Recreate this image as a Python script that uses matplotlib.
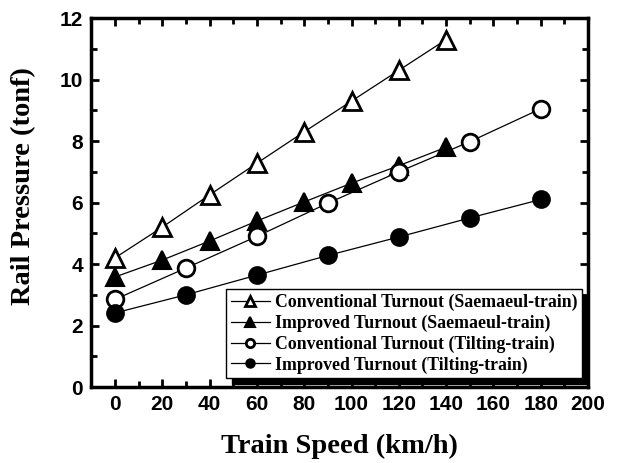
import numpy as np
import matplotlib.pyplot as plt
from matplotlib.ticker import MultipleLocator

# Data
speed_sae = [0, 20, 40, 60, 80, 100, 120, 140]
conv_sae = [4.2, 5.2, 6.25, 7.28, 8.3, 9.3, 10.3, 11.3]
impr_sae = [3.58, 4.13, 4.75, 5.4, 6.02, 6.63, 7.2, 7.8]

speed_tilt = [0, 30, 60, 90, 120, 150, 180]
conv_tilt = [2.85, 3.87, 4.9, 5.98, 7.0, 7.98, 9.05]
impr_tilt = [2.41, 3.0, 3.64, 4.28, 4.88, 5.5, 6.1]

labels = ['Conventional Turnout (Saemaeul-train)',
          'Improved Turnout (Saemaeul-train)',
          'Conventional Turnout (Tilting-train)',
          'Improved Turnout (Tilting-train)']

fig = plt.figure(figsize=(6.21, 4.63), dpi=100)
ax = fig.add_axes([0.147, 0.164, 0.8, 0.797])

ax.plot(speed_sae, conv_sae, '-^', color='k', lw=0.9, ms=13, mfc='white', mec='k', mew=2, label=labels[0])
ax.plot(speed_sae, impr_sae, '-^', color='k', lw=0.9, ms=13, mfc='k', mec='k', mew=1.5, label=labels[1])
ax.plot(speed_tilt, conv_tilt, '-o', color='k', lw=0.9, ms=12, mfc='white', mec='k', mew=2, label=labels[2])
ax.plot(speed_tilt, impr_tilt, '-o', color='k', lw=0.9, ms=12, mfc='k', mec='k', mew=1.5, label=labels[3])

ax.set_xlim(-10, 200)
ax.set_ylim(0, 12)
ax.xaxis.set_major_locator(MultipleLocator(20))
ax.xaxis.set_minor_locator(MultipleLocator(10))
ax.yaxis.set_major_locator(MultipleLocator(2))
ax.yaxis.set_minor_locator(MultipleLocator(1))
ax.tick_params(which='both', direction='in', top=True, right=True, width=2)
ax.tick_params(which='major', length=6, pad=6)
ax.tick_params(which='minor', length=4)
for s in ax.spines.values():
    s.set_linewidth(2.5)

for lab in ax.get_xticklabels() + ax.get_yticklabels():
    lab.set_fontfamily('Liberation Sans')
    lab.set_fontweight('bold')
    lab.set_fontsize(15)

ax.set_xlabel('Train Speed (km/h)', family='Liberation Serif', weight='bold', fontsize=20.5, labelpad=14)
ax.set_ylabel('Rail Pressure (tonf)', family='Liberation Serif', weight='bold', fontsize=20.5)
ax.yaxis.set_label_coords(-0.112, 0.545)

leg = ax.legend(loc='lower right', bbox_to_anchor=(0.988, 0.024), borderaxespad=0, markerscale=0.5,
                prop={'family': 'Liberation Serif', 'weight': 'bold', 'size': 12.8},
                fancybox=False, edgecolor='k', framealpha=1, borderpad=0.25,
                labelspacing=0.2, handlelength=2.2, handletextpad=0.3,
                shadow={'ox': 4, 'oy': -4, 'color': 'k', 'alpha': 1})
leg.get_frame().set_linewidth(1)

fig.savefig('out.png', dpi=100)
